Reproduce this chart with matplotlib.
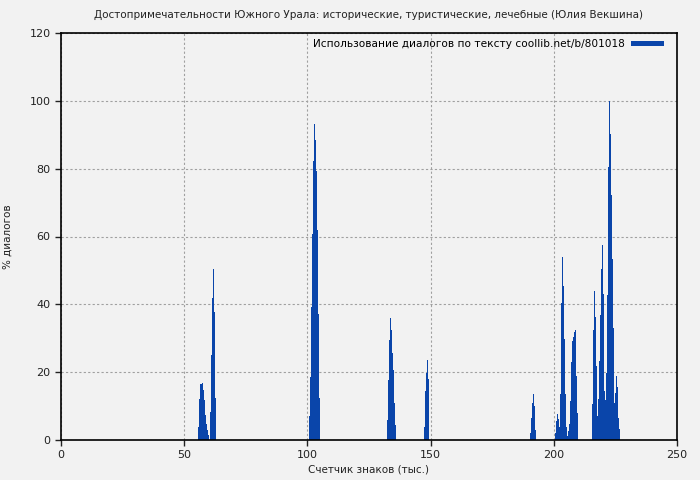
import matplotlib
matplotlib.use("Agg")
import matplotlib.pyplot as plt
import numpy as np

title = "Достопримечательности Южного Урала: исторические, туристические, лечебные (Юлия Векшина)"
xlabel = "Счетчик знаков (тыс.)"
ylabel = "% диалогов"
legend_label = "Использование диалогов по тексту coollib.net/b/801018"

bar_step = 0.406  # thousand chars per bar

# cluster start positions (thousand chars) and bar heights (%)
c1_start = 55.6
c1_vals = [3.9, 12.0, 16.5, 16.5, 16.8, 14.7, 11.8, 7.4, 4.7, 3.0, 1.5, 0, 8.4, 25.0, 41.8, 50.4, 37.8, 12.5]
c2_start = 100.6
c2_vals = [7.2, 18.7, 39.3, 60.8, 82.4, 93.2, 88.5, 79.2, 61.9, 37.2, 12.5]
c3_start = 132.5
c3_vals = [5.9, 17.7, 29.5, 35.9, 32.4, 25.6, 20.6, 10.9, 4.4]
c4_start = 147.3
c4_vals = [3.9, 14.3, 19.7, 23.6, 18.0]
c5_start = 190.3
c5_vals = [2.2, 6.5, 10.8, 13.6, 10.0, 3.0]
c6_start = 200.5
c6_vals = [2.0, 5.6, 7.7, 6.1, 3.9, 13.5, 40.3, 53.9, 45.5, 29.7, 13.6, 3.9, 1.2, 2.8, 4.7,
           11.6, 23.1, 29.3, 30.5, 31.7, 32.4, 18.9, 8.1]
c7_start = 215.5
c7_vals = [10.6, 32.4, 44.0, 36.4, 21.8, 7.1, 12.1, 23.3, 36.9, 50.4, 57.5, 43.1, 14.3, 11.8,
           19.9, 42.8, 80.6, 100.0, 90.2, 72.3, 53.4, 33.1, 11.0, 14.0, 18.9, 15.7, 6.5, 3.2]

clusters = [(c1_start, c1_vals), (c2_start, c2_vals), (c3_start, c3_vals), (c4_start, c4_vals),
            (c5_start, c5_vals), (c6_start, c6_vals), (c7_start, c7_vals)]

xs, hs = [], []
for s, vals in clusters:
    for i, v in enumerate(vals):
        xs.append(s + i * bar_step)
        hs.append(v)

bg = "#f2f2f2"
color = "#0a45aa"

plt.rcParams['font.family'] = ['DejaVu Sans']
fig = plt.figure(figsize=(7, 4.8), dpi=100, facecolor=bg)
ax = fig.add_axes([61/700, 40/480, 616/700, 407/480])
ax.set_facecolor(bg)

ax.bar(xs, hs, width=bar_step, align='edge', color=color, linewidth=0, label=legend_label)

ax.set_xlim(0, 250)
ax.set_ylim(0, 120)
ax.set_xticks([0, 50, 100, 150, 200, 250])
ax.set_yticks([0, 20, 40, 60, 80, 100, 120])
ax.grid(True, color="#a0a0a0", linestyle=(0, (2, 2)), linewidth=0.8)
ax.set_axisbelow(True)
for sp in ax.spines.values():
    sp.set_color("black")
    sp.set_linewidth(1.2)
ax.tick_params(direction='out', length=4, width=1, labelsize=8, colors='#222222')

ax.set_title(title, fontsize=7.5, pad=11, color='#222222')
ax.set_xlabel(xlabel, fontsize=7.5, labelpad=3, color='#222222')
ax.set_ylabel(ylabel, fontsize=7.5, labelpad=12, color='#222222')

leg = ax.legend(loc='upper right', bbox_to_anchor=(1 - 7/616, 1), frameon=False, fontsize=7.6,
                markerfirst=False, handlelength=3.1, handleheight=0.45, borderaxespad=0.2,
                handletextpad=0.6)

fig.savefig("out.png", dpi=100, facecolor=bg)
